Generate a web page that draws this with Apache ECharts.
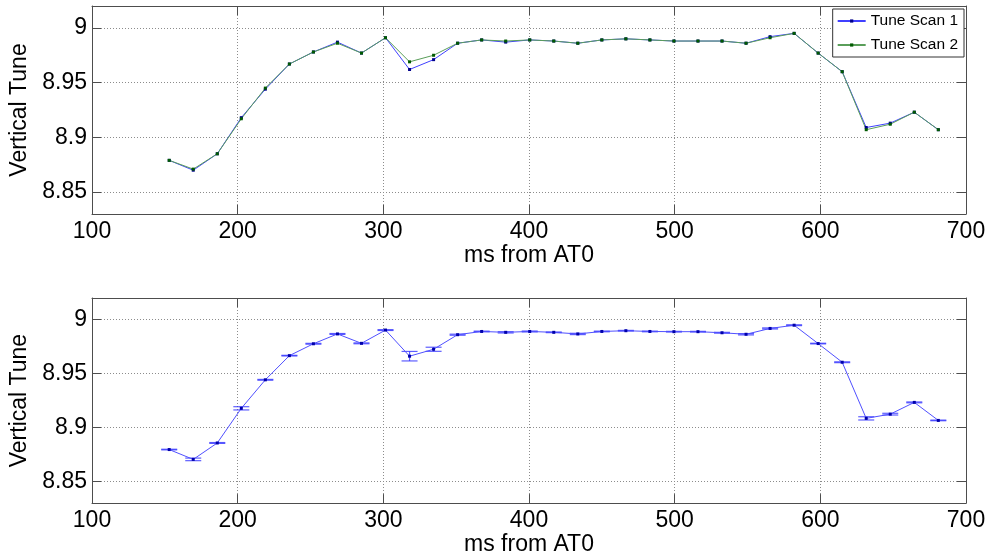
<!DOCTYPE html>
<html>
<head>
<meta charset="utf-8">
<script src="https://cdn.jsdelivr.net/npm/echarts@6/dist/echarts.min.js"></script>
<style>
html,body{margin:0;padding:0;background:#fff;}
#c{width:990px;height:557px;}
</style>
</head>
<body>
<div id="c"></div>
<script>
// ---- data ----
const xMs = [153, 169.5, 186, 202.5, 219, 235.5, 252, 268.5, 285, 301.5, 318, 334.5, 351, 367.5, 384, 400.5, 417, 433.5, 450, 466.5, 483, 499.5, 516, 532.5, 549, 565.5, 582, 598.5, 615, 631.5, 648, 664.5, 681];
const scan1 = [8.879, 8.870, 8.885, 8.918, 8.944, 8.967, 8.978, 8.987, 8.977, 8.991, 8.962, 8.971, 8.986, 8.989, 8.987, 8.989, 8.988, 8.986, 8.989, 8.990, 8.989, 8.988, 8.988, 8.988, 8.986, 8.992, 8.995, 8.977, 8.960, 8.909, 8.913, 8.923, 8.907];
const scan2 = [8.879, 8.871, 8.885, 8.917, 8.945, 8.967, 8.978, 8.986, 8.977, 8.991, 8.969, 8.975, 8.986, 8.989, 8.988, 8.989, 8.988, 8.986, 8.989, 8.990, 8.989, 8.988, 8.988, 8.988, 8.986, 8.991, 8.995, 8.977, 8.960, 8.907, 8.912, 8.923, 8.907];
const meanTune = [8.8796, 8.8705, 8.8857, 8.9178, 8.9442, 8.9666, 8.9776, 8.9867, 8.9780, 8.9903, 8.9661, 8.9725, 8.9860, 8.9890, 8.9882, 8.9890, 8.9882, 8.9867, 8.9890, 8.9897, 8.9890, 8.9888, 8.9888, 8.9878, 8.9864, 8.9918, 8.9948, 8.9778, 8.9605, 8.9085, 8.9124, 8.9233, 8.9066];
const errTune = [0.0003, 0.0012, 0.0004, 0.0015, 0.0004, 0.0003, 0.0004, 0.0004, 0.0004, 0.0004, 0.0044, 0.0019, 0.0005, 0.0003, 0.0006, 0.0004, 0.0003, 0.0006, 0.0003, 0.0003, 0.0003, 0.0003, 0.0003, 0.0004, 0.0006, 0.0005, 0.0004, 0.0003, 0.0004, 0.0015, 0.0008, 0.0004, 0.0003];
const yTicks = [8.85, 8.9, 8.95, 9];
const yTickLabels = ['8.85', '8.9', '8.95', '9'];
const seriesNames = ['Tune Scan 1', 'Tune Scan 2'];
const xLabel = 'ms from AT0';
const yLabel = 'Vertical Tune';

// ---- chart ----
const chart = echarts.init(document.getElementById('c'), null, {renderer: 'canvas'});
const FONT = 'Liberation Sans, Arial, Helvetica, sans-serif';
const axisCol = '#4d4d4d';
const gridLine = {show: true, lineStyle: {color: '#8c8c8c', type: [1, 2], width: 1}};

function mkX(gi, main, gap) {
  return {
    type: 'value', gridIndex: gi, min: 100, max: 700, interval: 100,
    position: main ? 'bottom' : 'top',
    axisLine: {show: true, onZero: false, lineStyle: {color: axisCol, width: 1}},
    axisTick: {show: true, inside: true, length: 9, lineStyle: {color: axisCol}},
    axisLabel: {show: main, color: '#000', fontSize: 23, fontFamily: FONT, margin: 6},
    splitLine: main ? gridLine : {show: false},
    name: main ? xLabel : '', nameLocation: 'middle', nameGap: gap || 20,
    nameTextStyle: {color: '#000', fontSize: 23, fontFamily: FONT, verticalAlign: 'top'}
  };
}
function mkY(gi, main) {
  return {
    type: 'value', gridIndex: gi, min: 8.83, max: 9.02,
    position: main ? 'left' : 'right',
    axisLine: {show: true, onZero: false, lineStyle: {color: axisCol, width: 1}},
    axisTick: {show: true, inside: true, length: 9, lineStyle: {color: axisCol}, customValues: yTicks},
    axisLabel: {show: main, color: '#000', fontSize: 23, fontFamily: FONT, margin: 5,
      customValues: yTicks,
      formatter: v => yTickLabels[yTicks.findIndex(t => Math.abs(t - v) < 1e-6)] || ''},
    splitLine: main ? gridLine : {show: false},
    name: main ? yLabel : '', nameLocation: 'middle', nameGap: 50,
    nameTextStyle: {color: '#000', fontSize: 23, fontFamily: FONT}
  };
}

const pairs = arr => xMs.map((x, i) => [x, arr[i]]);
const errData = xMs.map((x, i) => [x, meanTune[i] - errTune[i], meanTune[i] + errTune[i]]);

const option = {
  animation: false,
  backgroundColor: '#fff',
  grid: [
    {left: 92, width: 874, top: 6, height: 208},
    {left: 92, width: 874, top: 298, height: 209}
  ],
  xAxis: [mkX(0, true, 16), mkX(0, false), mkX(1, true, 24), mkX(1, false)],
  yAxis: [mkY(0, true), mkY(0, false), mkY(1, true), mkY(1, false)],
  legend: {
    data: seriesNames,
    orient: 'vertical', right: 26, top: 9,
    itemWidth: 28, itemHeight: 4, itemGap: 8,
    padding: [4, 6, 4, 4],
    borderColor: '#333', borderWidth: 1, backgroundColor: '#fff',
    textStyle: {color: '#000', fontSize: 15.5, fontFamily: FONT}
  },
  series: [
    {
      name: seriesNames[0], type: 'line', xAxisIndex: 0, yAxisIndex: 0,
      data: pairs(scan1), symbol: 'rect', symbolSize: 3,
      lineStyle: {color: '#4040ff', width: 1},
      itemStyle: {color: '#00008b'}, color: '#4040ff'
    },
    {
      name: seriesNames[1], type: 'line', xAxisIndex: 0, yAxisIndex: 0,
      data: pairs(scan2), symbol: 'rect', symbolSize: 3,
      lineStyle: {color: '#5a9e5a', width: 1},
      itemStyle: {color: '#005a00'}, color: '#5a9e5a'
    },
    {
      name: 'mean', type: 'line', xAxisIndex: 2, yAxisIndex: 2,
      data: pairs(meanTune), symbol: 'rect', symbolSize: 3,
      lineStyle: {color: '#5050ff', width: 1},
      itemStyle: {color: '#0000aa'}
    },
    {
      name: 'err', type: 'custom', xAxisIndex: 2, yAxisIndex: 2,
      data: errData,
      renderItem: function (params, api) {
        const x = api.value(0);
        const lo = api.coord([x, api.value(1)]);
        const hi = api.coord([x, api.value(2)]);
        const hw = 8;
        const st = {stroke: 'rgba(40,40,255,0.75)', lineWidth: 1.2};
        return {
          type: 'group',
          children: [
            {type: 'line', shape: {x1: lo[0], y1: lo[1], x2: hi[0], y2: hi[1]}, style: st},
            {type: 'line', shape: {x1: lo[0] - hw, y1: lo[1], x2: lo[0] + hw, y2: lo[1]}, style: st},
            {type: 'line', shape: {x1: hi[0] - hw, y1: hi[1], x2: hi[0] + hw, y2: hi[1]}, style: st}
          ]
        };
      },
      z: 3
    }
  ]
};
chart.setOption(option);
</script>
</body>
</html>
